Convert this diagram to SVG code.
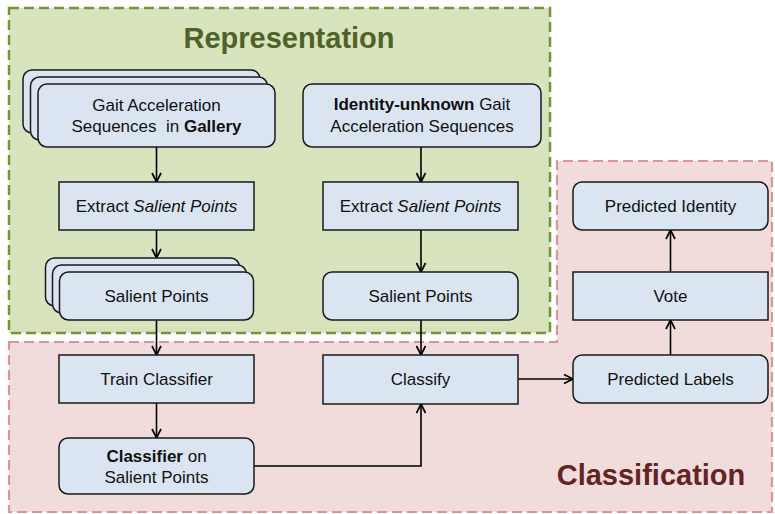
<svg xmlns="http://www.w3.org/2000/svg" width="775" height="514" viewBox="0 0 775 514">
  <style>
    .node { fill: #dbe5f1; stroke: #1a1a1a; stroke-width: 1.5; }
    .lbl { font-family: "Liberation Sans", Arial, sans-serif; font-size: 17px; fill: #111; text-anchor: middle; }
    .b { font-weight: bold; }
    .i { font-style: italic; }
    .edge { fill: none; stroke: #000; stroke-width: 1.6; }
    .title { font-family: "Liberation Sans", Arial, sans-serif; font-size: 29px; font-weight: bold; text-anchor: middle; }
  </style>
  <defs>
    <marker id="arrow" viewBox="0 0 12 12" refX="11" refY="6" markerWidth="12" markerHeight="12" markerUnits="userSpaceOnUse" orient="auto">
      <path d="M2,1.5 L11,6 L2,10.5" fill="none" stroke="#000" stroke-width="1.7"/>
    </marker>
  </defs>

  <rect width="775" height="514" fill="#ffffff"/>

  <!-- regions -->
  <g id="region-representation">
    <rect x="9" y="8" width="541" height="325" fill="#d7e4bd" stroke="#77933c" stroke-width="2.5" stroke-dasharray="10,5"/>
    <text class="title" x="289" y="48" fill="#4f6228">Representation</text>
  </g>
  <g id="region-classification">
    <path d="M9,342 L557,342 L557,161 L772,161 L772,512 L9,512 Z" fill="#f2dcdb" stroke="#d99694" stroke-width="2.2" stroke-dasharray="10,5"/>
    <text class="title" x="651" y="485" fill="#632423">Classification</text>
  </g>

  <!-- connectors -->
  <g id="connectors">
    <line class="edge" x1="156.5" y1="147" x2="156.5" y2="182" marker-end="url(#arrow)"/>
    <line class="edge" x1="156.5" y1="230" x2="156.5" y2="258" marker-end="url(#arrow)"/>
    <line class="edge" x1="156.5" y1="320" x2="156.5" y2="355" marker-end="url(#arrow)"/>
    <line class="edge" x1="156.5" y1="403" x2="156.5" y2="438" marker-end="url(#arrow)"/>
    <line class="edge" x1="421" y1="147" x2="421" y2="182" marker-end="url(#arrow)"/>
    <line class="edge" x1="421" y1="230" x2="421" y2="272" marker-end="url(#arrow)"/>
    <line class="edge" x1="421" y1="320" x2="421" y2="355" marker-end="url(#arrow)"/>
    <polyline class="edge" points="254,466 421,466 421,404" marker-end="url(#arrow)"/>
    <line class="edge" x1="518" y1="379" x2="573" y2="379" marker-end="url(#arrow)"/>
    <line class="edge" x1="670.5" y1="355" x2="670.5" y2="320" marker-end="url(#arrow)"/>
    <line class="edge" x1="670.5" y1="272" x2="670.5" y2="230" marker-end="url(#arrow)"/>
  </g>

  <!-- left column -->
  <g id="gallery-sequences">
    <rect class="node" x="23" y="70" width="237" height="63" rx="9"/>
    <rect class="node" x="30.5" y="77" width="237" height="63" rx="9"/>
    <rect class="node" x="38" y="84" width="237" height="63" rx="9"/>
    <text class="lbl" x="156.5" y="111">Gait Acceleration</text>
    <text class="lbl" x="156.5" y="132" xml:space="preserve">Sequences  in <tspan class="b">Gallery</tspan></text>
  </g>
  <g id="extract-gallery">
    <rect class="node" x="59" y="182" width="195" height="48"/>
    <text class="lbl" x="156.5" y="212">Extract <tspan class="i">Salient Points</tspan></text>
  </g>
  <g id="gallery-salient-points">
    <rect class="node" x="45.5" y="258" width="194" height="48" rx="9"/>
    <rect class="node" x="52.5" y="265" width="194" height="48" rx="9"/>
    <rect class="node" x="59.5" y="272" width="194" height="48" rx="9"/>
    <text class="lbl" x="156.5" y="302">Salient Points</text>
  </g>
  <g id="train-classifier">
    <rect class="node" x="59" y="355" width="195" height="48"/>
    <text class="lbl" x="156.5" y="385">Train Classifier</text>
  </g>
  <g id="trained-classifier">
    <rect class="node" x="59" y="438" width="195" height="56" rx="9"/>
    <text class="lbl" x="156.5" y="462"><tspan class="b">Classifier</tspan> on</text>
    <text class="lbl" x="156.5" y="483">Salient Points</text>
  </g>

  <!-- middle column -->
  <g id="probe-sequences">
    <rect class="node" x="303" y="84" width="238" height="63" rx="9"/>
    <text class="lbl" x="422" y="110"><tspan class="b">Identity-unknown</tspan> Gait</text>
    <text class="lbl" x="422" y="132">Acceleration Sequences</text>
  </g>
  <g id="extract-probe">
    <rect class="node" x="323" y="182" width="195" height="48"/>
    <text class="lbl" x="420.5" y="212">Extract <tspan class="i">Salient Points</tspan></text>
  </g>
  <g id="probe-salient-points">
    <rect class="node" x="323" y="272" width="195" height="48" rx="9"/>
    <text class="lbl" x="420.5" y="302">Salient Points</text>
  </g>
  <g id="classify">
    <rect class="node" x="323" y="355" width="195" height="49"/>
    <text class="lbl" x="420.5" y="385">Classify</text>
  </g>

  <!-- right column -->
  <g id="predicted-labels">
    <rect class="node" x="573" y="355" width="195" height="48" rx="9"/>
    <text class="lbl" x="670.5" y="385">Predicted Labels</text>
  </g>
  <g id="vote">
    <rect class="node" x="573" y="272" width="195" height="48"/>
    <text class="lbl" x="670.5" y="302">Vote</text>
  </g>
  <g id="predicted-identity">
    <rect class="node" x="573" y="182" width="195" height="48" rx="9"/>
    <text class="lbl" x="670.5" y="212">Predicted Identity</text>
  </g>
</svg>
